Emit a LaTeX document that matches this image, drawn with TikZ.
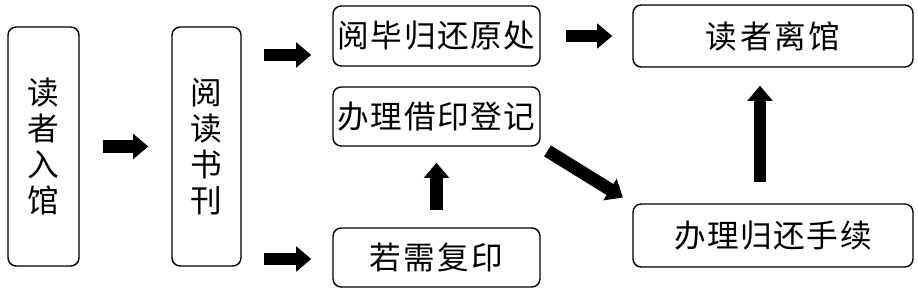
\documentclass[tikz,border=0pt]{standalone}
\usepackage{fontspec}
\usetikzlibrary{arrows.meta}
\newfontfamily\cjkfont{Noto Sans CJK SC}

\begin{document}
\begin{tikzpicture}[x=0.03cm,y=-0.03cm,
    stepbox/.style={draw,line width=1.2pt,rounded corners=7pt,inner sep=0pt,
      align=center,font=\cjkfont\fontsize{27}{30.7}\selectfont\addfontfeature{LetterSpace=5}},
    widebox/.style={stepbox,font=\cjkfont\fontsize{27}{30.7}\selectfont\addfontfeature{LetterSpace=8}},
    fat/.style={line width=11pt,-{Triangle[length=13pt,width=21pt]}}]
        \useasboundingbox (0,0) rectangle (918,292);

        % left column
        \node[stepbox,minimum width=2.13cm,minimum height=7.17cm]
          (enter) at (43.5,146.5) {读\\者\\入\\馆};
        \node[stepbox,minimum width=2.07cm,minimum height=7.17cm]
          (read) at (206.5,146.5) {阅\\读\\书\\刊};

        % middle column
        \node[stepbox,minimum width=6.21cm,minimum height=1.80cm]
          (back) at (436.5,36) {阅毕归还原处};
        \node[stepbox,minimum width=6.21cm,minimum height=1.77cm]
          (regist) at (436.5,116.5) {办理借印登记};
        \node[widebox,minimum width=6.21cm,minimum height=1.77cm]
          (copy) at (436.5,257.5) {若需复印};

        % right column
        \node[widebox,minimum width=8.40cm,minimum height=1.86cm]
          (leave) at (773,36) {读者离馆};
        \node[stepbox,minimum width=8.40cm,minimum height=1.89cm]
          (return) at (773,235.5) {办理归还手续};

        % arrows
        \draw[fat,shorten <=0.69cm,shorten >=0.69cm] (enter) -- (read);
        \draw[fat,shorten <=0.66cm,shorten >=0.63cm]
          (read.east |- 0,55) -- (back.west |- 0,55);
        \draw[fat,shorten <=0.66cm,shorten >=0.63cm]
          (read.east |- 0,259) -- (copy.west |- 0,259);
        \draw[fat,shorten <=0.51cm,shorten >=0.48cm] (copy) -- (regist);
        \draw[fat,shorten <=0.75cm,shorten >=0.60cm] (back) -- (leave);
        \draw[fat,shorten <=0.24cm,shorten >=0.33cm]
          (regist.south east) -- (return.north west);
        \draw[fat,shorten <=0.63cm,shorten >=0.54cm]
          (return.north -| 760,0) -- (leave.south -| 760,0);
\end{tikzpicture}
\end{document}
